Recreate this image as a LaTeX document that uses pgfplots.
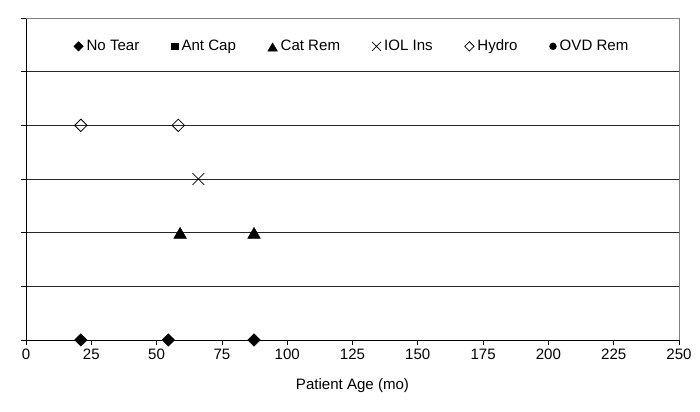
\documentclass[border=0pt]{standalone}
\usepackage{pgfplots}
\pgfplotsset{compat=1.18}
\usepackage{fontspec}
\setmainfont{Liberation Sans}
\begin{document}
\begin{tikzpicture}
\begin{axis}[name=ax,
  scale only axis, width=489.75pt, height=241.5pt,
  xmin=0, xmax=250, ymin=0, ymax=6,
  xtick={0,25,...,250},
  ytick={0,1,2,3,4,5}, yticklabels={},
  extra y ticks={6}, extra y tick labels={}, extra y tick style={grid=none},
  ymajorgrids, major grid style={black!85, line width=0.6pt},
  axis x line*=bottom, axis y line*=left,
  axis line style={black, line width=0.6pt},
  tick align=outside, major tick length=3.75pt,
  tick style={black, line width=0.6pt},
  /pgf/number format/assume math mode=true,
  tick label style={font=\fontsize{11.3}{13}\selectfont},
  xticklabel style={yshift=0.5pt},
  xlabel={Patient Age (mo)},
  xlabel style={font=\fontsize{11.3}{13}\selectfont, yshift=-7pt},
  clip=false,
  legend columns=6,
  legend style={at={(0.5,0.912)}, anchor=center, draw=none, fill=none,
    font=\fontsize{11.3}{13}\selectfont,
    /tikz/every odd column/.append style={column sep=0.5pt},
    /tikz/every even column/.append style={column sep=22pt}},
  legend image code/.code={\draw[#1,/tikz/every mark/.append style={scale=0.75}] plot coordinates {(0.1cm,0cm)};},
]
\draw[gray, line width=0.6pt] (rel axis cs:0,1) -- (rel axis cs:1,1) -- (rel axis cs:1,0);
\addplot[only marks, mark=square*, mark size=3.3pt, mark options={rotate=45, fill=black, draw=black}]
  coordinates {(21,0) (54.5,0) (87.3,0)};
\addlegendentry{No Tear}
\addlegendimage{only marks, mark=square*, mark size=3.4pt, mark options={fill=black, draw=black}}
\addlegendentry{Ant Cap}
\addplot[only marks, mark=triangle*, mark size=5.4pt, mark options={fill=black, draw=black, yshift=-1.5pt}]
  coordinates {(59,2) (87.3,2)};
\addlegendentry{Cat Rem}
\addplot[only marks, mark=x, mark size=6.2pt, mark options={draw=black, line width=0.5pt}]
  coordinates {(66,3)};
\addlegendentry{IOL Ins}
\addplot[only marks, mark=square, mark size=3.3pt, mark options={rotate=45, fill=white, draw=black, line width=0.6pt}]
  coordinates {(21,4) (58.3,4)};
\addlegendentry{Hydro}
\addlegendimage{only marks, mark=*, mark size=3.4pt, mark options={fill=black, draw=black}}
\addlegendentry{OVD Rem}
\end{axis}
\path ([xshift=-19.5pt,yshift=-54pt]ax.south west) rectangle ([xshift=15.75pt,yshift=13.5pt]ax.north east);
\end{tikzpicture}
\end{document}
